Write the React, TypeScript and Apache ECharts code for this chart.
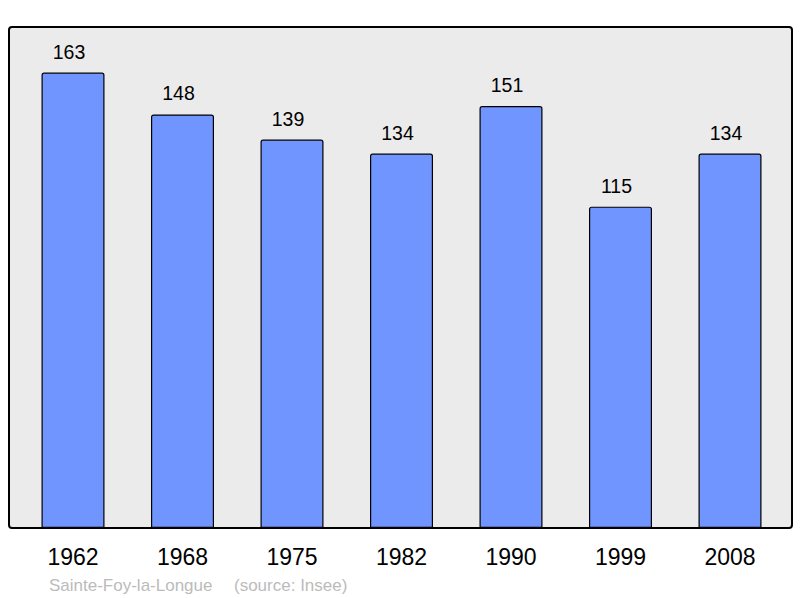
import React, { useEffect, useRef } from "react";
import * as echarts from "echarts";

const years = ["1962", "1968", "1975", "1982", "1990", "1999", "2008"];
const population = [163, 148, 139, 134, 151, 115, 134];
const townName = "Sainte-Foy-la-Longue";
const sourceText = "(source: Insee)";

export default function App() {
  const ref = useRef<HTMLDivElement>(null);
  useEffect(() => {
    document.body.style.margin = "0";
    const chart = echarts.init(ref.current!, null, { renderer: "svg" });
    chart.setOption({
      animation: false,
      textStyle: { fontFamily: "Liberation Sans, Arial, sans-serif" },
      grid: { left: 18.25, right: 15.25, top: 27, bottom: 70, containLabel: false },
      graphic: [
        {
          type: "rect",
          z: -10,
          shape: { x: 9, y: 27, width: 783, height: 501, r: 3 },
          style: { fill: "#ebebeb", stroke: "#000", lineWidth: 2 },
        },
        {
          type: "text",
          x: 49,
          y: 585,
          style: {
            text: townName,
            fill: "#bbbbbb",
            fontSize: 17,
            fontFamily: "Liberation Sans, Arial, sans-serif",
            verticalAlign: "middle",
          },
        },
        {
          type: "text",
          x: 234,
          y: 585,
          style: {
            text: sourceText,
            fill: "#bbbbbb",
            fontSize: 17,
            fontFamily: "Liberation Sans, Arial, sans-serif",
            verticalAlign: "middle",
          },
        },
      ],
      xAxis: {
        type: "category",
        data: years,
        axisLine: { show: false },
        axisTick: { show: false },
        axisLabel: { color: "#000", fontSize: 23, margin: 17 },
      },
      yAxis: {
        type: "value",
        min: 0,
        max: 179.3,
        show: false,
        splitLine: { show: false },
      },
      series: [
        {
          type: "bar",
          data: population,
          barWidth: 63,
          itemStyle: {
            color: "#7095ff",
            borderColor: "#000",
            borderWidth: 1.2,
            borderRadius: [2, 2, 0, 0],
          },
          label: {
            show: true,
            position: "top",
            distance: 11,
            offset: [-4, 0],
            color: "#000",
            fontSize: 19.5,
          },
        },
      ],
    });
    return () => chart.dispose();
  }, []);
  return <div ref={ref} style={{ width: 800, height: 598 }} />;
}
